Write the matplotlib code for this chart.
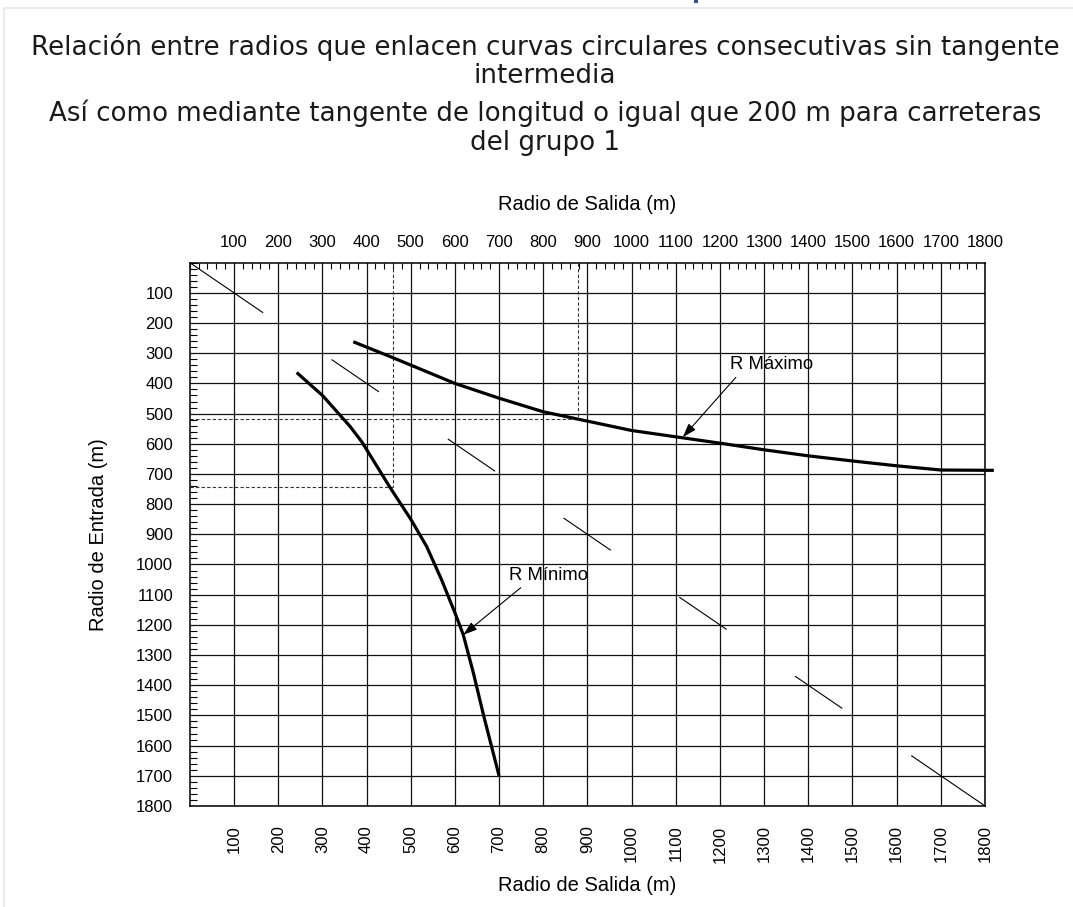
import matplotlib
matplotlib.use('Agg')
import matplotlib.pyplot as plt
from matplotlib.lines import Line2D
from matplotlib.patches import Rectangle
from matplotlib.ticker import MultipleLocator

# limit curves: radio de salida (x) vs radio de entrada (y), metres
rmax_salida = [370, 460, 600, 700, 800, 900, 1000, 1100, 1200, 1300, 1400, 1500, 1600, 1700, 1820]
rmax_entrada = [262, 315, 400, 449, 494, 525, 556, 577, 598, 620, 640, 657, 673, 687, 688]

rmin_salida = [242, 301, 363, 390, 452, 501, 536, 570, 602, 619, 642, 665, 700]
rmin_entrada = [364, 441, 543, 595, 742, 852, 940, 1051, 1167, 1233, 1360, 1500, 1700]

# worked examples (dashed guides)
ejemplo_salida = [459, 879]
ejemplo_entrada = [742, 517]

# stretches of the R_entrada = R_salida diagonal
diag_ini = [0, 322, 585, 847, 1109, 1371, 1634]
diag_fin = [165, 427, 690, 952, 1214, 1476, 1800]

ticks = list(range(100, 1900, 100))

titulo1 = ['Relación entre radios que enlacen curvas circulares consecutivas sin tangente',
           'intermedia']
titulo2 = ['Así como mediante tangente de longitud o igual que 200 m para carreteras',
           'del grupo 1']

plt.rcParams['font.family'] = 'Liberation Sans'

fig = plt.figure(figsize=(10.73, 9.07), dpi=100)

# page frame and heading fragment
fig.add_artist(Line2D([3.5 / 1073, 1], [1 - 7.5 / 907] * 2, color='#ebebeb', lw=1.5))
fig.add_artist(Line2D([3.5 / 1073] * 2, [0, 1 - 7.5 / 907], color='#ebebeb', lw=1.5))
fig.add_artist(Rectangle((694 / 1073, 1 - 3 / 907), 4 / 1073, 3 / 907,
                         color='#2e5594', lw=0))

for txt, y in zip(titulo1 + titulo2, [47, 76, 113, 143]):
    fig.text(0.508, 1 - y / 907, txt, ha='center', va='center',
             family='DejaVu Sans', fontsize=18.8, color='#1a1a1a')

ax = fig.add_axes([0.1769, 0.1114, 0.7411, 0.599])
ax.set_xlim(0, 1800)
ax.set_ylim(1800, 0)
ax.set_xticks(ticks)
ax.set_yticks(ticks)
ax.xaxis.set_minor_locator(MultipleLocator(20))
ax.yaxis.set_minor_locator(MultipleLocator(20))
ax.grid(True, which='major', color='#111111', lw=0.9)
ax.set_axisbelow(True)
for s in ax.spines.values():
    s.set_linewidth(1.1)

ax.tick_params(which='major', length=0)
ax.tick_params(axis='x', which='major', labelrotation=90, pad=14, labelsize=12)
ax.tick_params(axis='y', which='major', pad=12, labelsize=12)
ax.tick_params(axis='x', which='minor', top=True, bottom=False,
               direction='in', length=4, width=0.8)
ax.tick_params(axis='y', which='minor', left=True, right=False,
               direction='in', length=5, width=0.8)

secax = ax.secondary_xaxis('top')
secax.set_xticks(ticks)
secax.tick_params(length=0, pad=9, labelsize=12)
secax.spines['top'].set_visible(False)

ax.set_xlabel('Radio de Salida (m)', fontsize=14.5, labelpad=10)
secax.set_xlabel('Radio de Salida (m)', fontsize=14.5, labelpad=18)
ax.set_ylabel('Radio de Entrada (m)', fontsize=14.5, labelpad=20)

# diagonal marks
for a, b in zip(diag_ini, diag_fin):
    ax.plot([a, b], [a, b], color='black', lw=0.8)

# dashed guides from the axes to each example point
for xs, ys in zip(ejemplo_salida, ejemplo_entrada):
    ax.plot([xs, xs], [0, ys], color='#333333', lw=0.8, ls=(0, (3, 2)))
    ax.plot([0, xs], [ys, ys], color='#333333', lw=0.8, ls=(0, (3, 2)))

ax.plot(rmax_salida, rmax_entrada, color='black', lw=2.3, clip_on=False,
        solid_capstyle='butt', solid_joinstyle='round')
ax.plot(rmin_salida, rmin_entrada, color='black', lw=2.3,
        solid_capstyle='butt', solid_joinstyle='round')

arrow = dict(arrowstyle='-|>,head_length=0.6,head_width=0.2', color='black',
             lw=0.8, shrinkA=0, shrinkB=0, mutation_scale=14)
ax.text(1223, 339, 'R Máximo', fontsize=13.3, ha='left', va='center')
ax.annotate('', xy=(1116, 578), xytext=(1236, 380), arrowprops=arrow)
ax.text(723, 1036, 'R Mínimo', fontsize=13.3, ha='left', va='center')
ax.annotate('', xy=(619, 1233), xytext=(749, 1077), arrowprops=arrow)

fig.savefig('out.png', dpi=100)
